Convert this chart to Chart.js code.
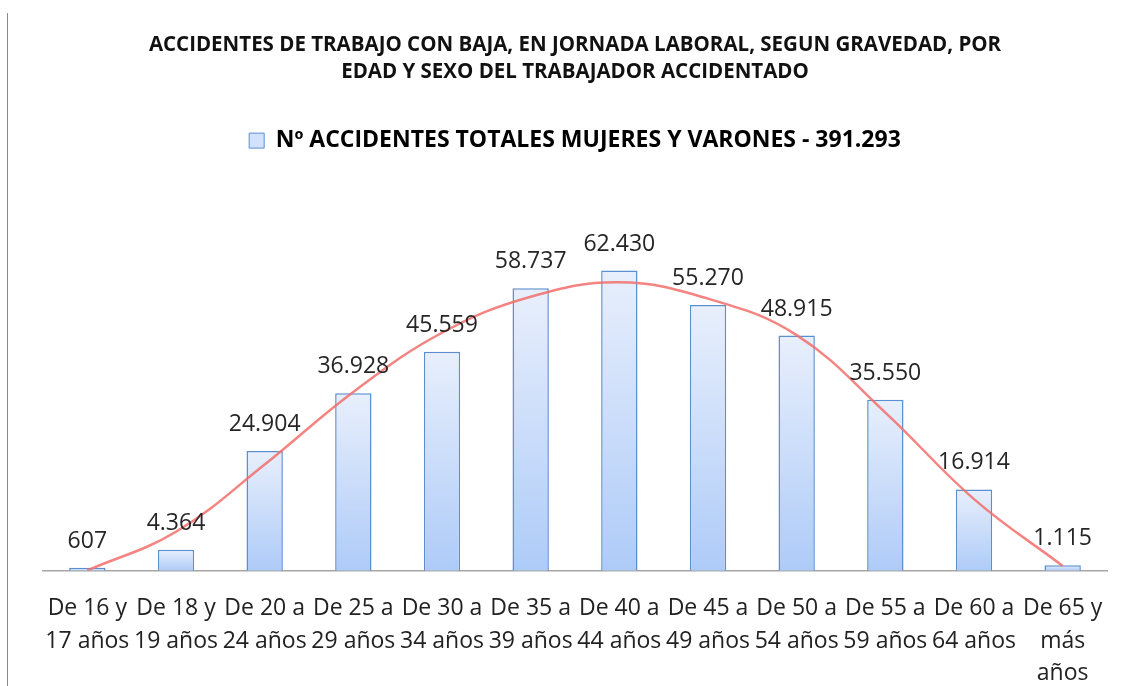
<!DOCTYPE html>
<html>
<head>
<meta charset="utf-8">
<script src="https://cdn.jsdelivr.net/npm/chart.js@4.4.0/dist/chart.umd.min.js"></script>
<style>
  html, body { margin: 0; padding: 0; background: #fff; }
  #wrap { position: relative; width: 1130px; height: 686px; }
  #edge { position: absolute; left: 7px; top: 13px; bottom: 0; border-left: 1px solid #8a8a8a; }
</style>
</head>
<body>
<div id="wrap">
  <div id="edge"></div>
  <canvas id="chart" width="1130" height="686"></canvas>
</div>
<script>
// categories (age groups)
var ageGroups = [
  ["De 16 y", "17 años"],
  ["De 18 y", "19 años"],
  ["De 20 a", "24 años"],
  ["De 25 a", "29 años"],
  ["De 30 a", "34 años"],
  ["De 35 a", "39 años"],
  ["De 40 a", "44 años"],
  ["De 45 a", "49 años"],
  ["De 50 a", "54 años"],
  ["De 55 a", "59 años"],
  ["De 60 a", "64 años"],
  ["De 65 y", "más", "años"]
];
// accidents per age group
var accidents = [607, 4364, 24904, 36928, 45559, 58737, 62430, 55270, 48915, 35550, 16914, 1115];
// trend line at each category
var trendValues = [60, 8100, 22100, 37200, 49500, 57000, 60000, 56600, 49000, 32900, 14900, 1000];

var titleLines = [
  "ACCIDENTES DE TRABAJO CON BAJA, EN JORNADA LABORAL, SEGUN GRAVEDAD, POR",
  "EDAD Y SEXO DEL TRABAJADOR ACCIDENTADO"
];

function fmt(n) {
  return String(n).replace(/\B(?=(\d{3})+(?!\d))/g, ".");
}

var total = 0;
for (var i = 0; i < accidents.length; i++) total += accidents[i];
var legendText = "Nº ACCIDENTES TOTALES MUJERES Y VARONES - " + fmt(total);

function barFill(context) {
  var chart = context.chart;
  var y = chart.scales.y;
  if (!y || context.type !== "data") return "#cfdffb";
  var v = accidents[context.dataIndex];
  var top = y.getPixelForValue(v);
  var bottom = y.getPixelForValue(0);
  if (!isFinite(top) || !isFinite(bottom) || top === bottom) return "#cfdffb";
  var g = chart.ctx.createLinearGradient(0, top, 0, bottom);
  g.addColorStop(0, "#e8effc");
  g.addColorStop(1, "#aecbf8");
  return g;
}

var valueLabels = {
  id: "valueLabels",
  afterDatasetsDraw: function (chart) {
    var ctx = chart.ctx;
    var meta = chart.getDatasetMeta(1);
    ctx.save();
    ctx.font = "23px 'Open Sans'";
    ctx.fillStyle = "#262626";
    ctx.textAlign = "center";
    ctx.textBaseline = "alphabetic";
    meta.data.forEach(function (bar, i) {
      ctx.fillText(fmt(accidents[i]), bar.x, bar.y - 20);
    });
    ctx.restore();
  }
};

var ctx = document.getElementById("chart").getContext("2d");
var chart = new Chart(ctx, {
  type: "bar",
  data: {
    labels: ageGroups,
    datasets: [
      {
        type: "line",
        label: "tendencia",
        data: trendValues,
        borderColor: "rgba(242, 110, 108, 0.85)",
        borderWidth: 2.5,
        pointRadius: 0,
        tension: 0.4,
        fill: false,
        order: 0
      },
      {
        type: "bar",
        label: legendText,
        data: accidents,
        backgroundColor: barFill,
        borderColor: "#5b8fd0",
        borderWidth: 1.5,
        barPercentage: 0.41,
        categoryPercentage: 1,
        order: 1
      }
    ]
  },
  options: {
    responsive: false,
    animation: false,
    layout: { padding: { left: 43, right: 23, top: 0, bottom: -26 } },
    plugins: {
      title: {
        display: true,
        text: titleLines,
        color: "#111",
        font: { family: "'Open Sans'", size: 20.5, weight: "bold", lineHeight: 1.32 },
        padding: { top: 32, bottom: 33 }
      },
      legend: {
        display: true,
        labels: {
          boxWidth: 15,
          boxHeight: 15,
          color: "#111",
          font: { family: "'Open Sans'", size: 23, weight: "bold" },
          generateLabels: function () {
            return [{
              text: legendText,
              fillStyle: "#d3e2fb",
              strokeStyle: "#5b8fd0",
              lineWidth: 1,
              datasetIndex: 1
            }];
          }
        }
      },
      tooltip: { enabled: false }
    },
    scales: {
      x: {
        grid: { display: false, drawTicks: false },
        border: { display: true, color: "#a6a6a6", width: 1.5 },
        ticks: {
          color: "#222",
          font: { family: "'Open Sans'", size: 23, lineHeight: 1.41 },
          padding: 22,
          maxRotation: 0,
          autoSkip: false
        }
      },
      y: {
        display: false,
        min: 0,
        max: 85000
      }
    }
  },
  plugins: [valueLabels]
});
</script>
</body>
</html>
